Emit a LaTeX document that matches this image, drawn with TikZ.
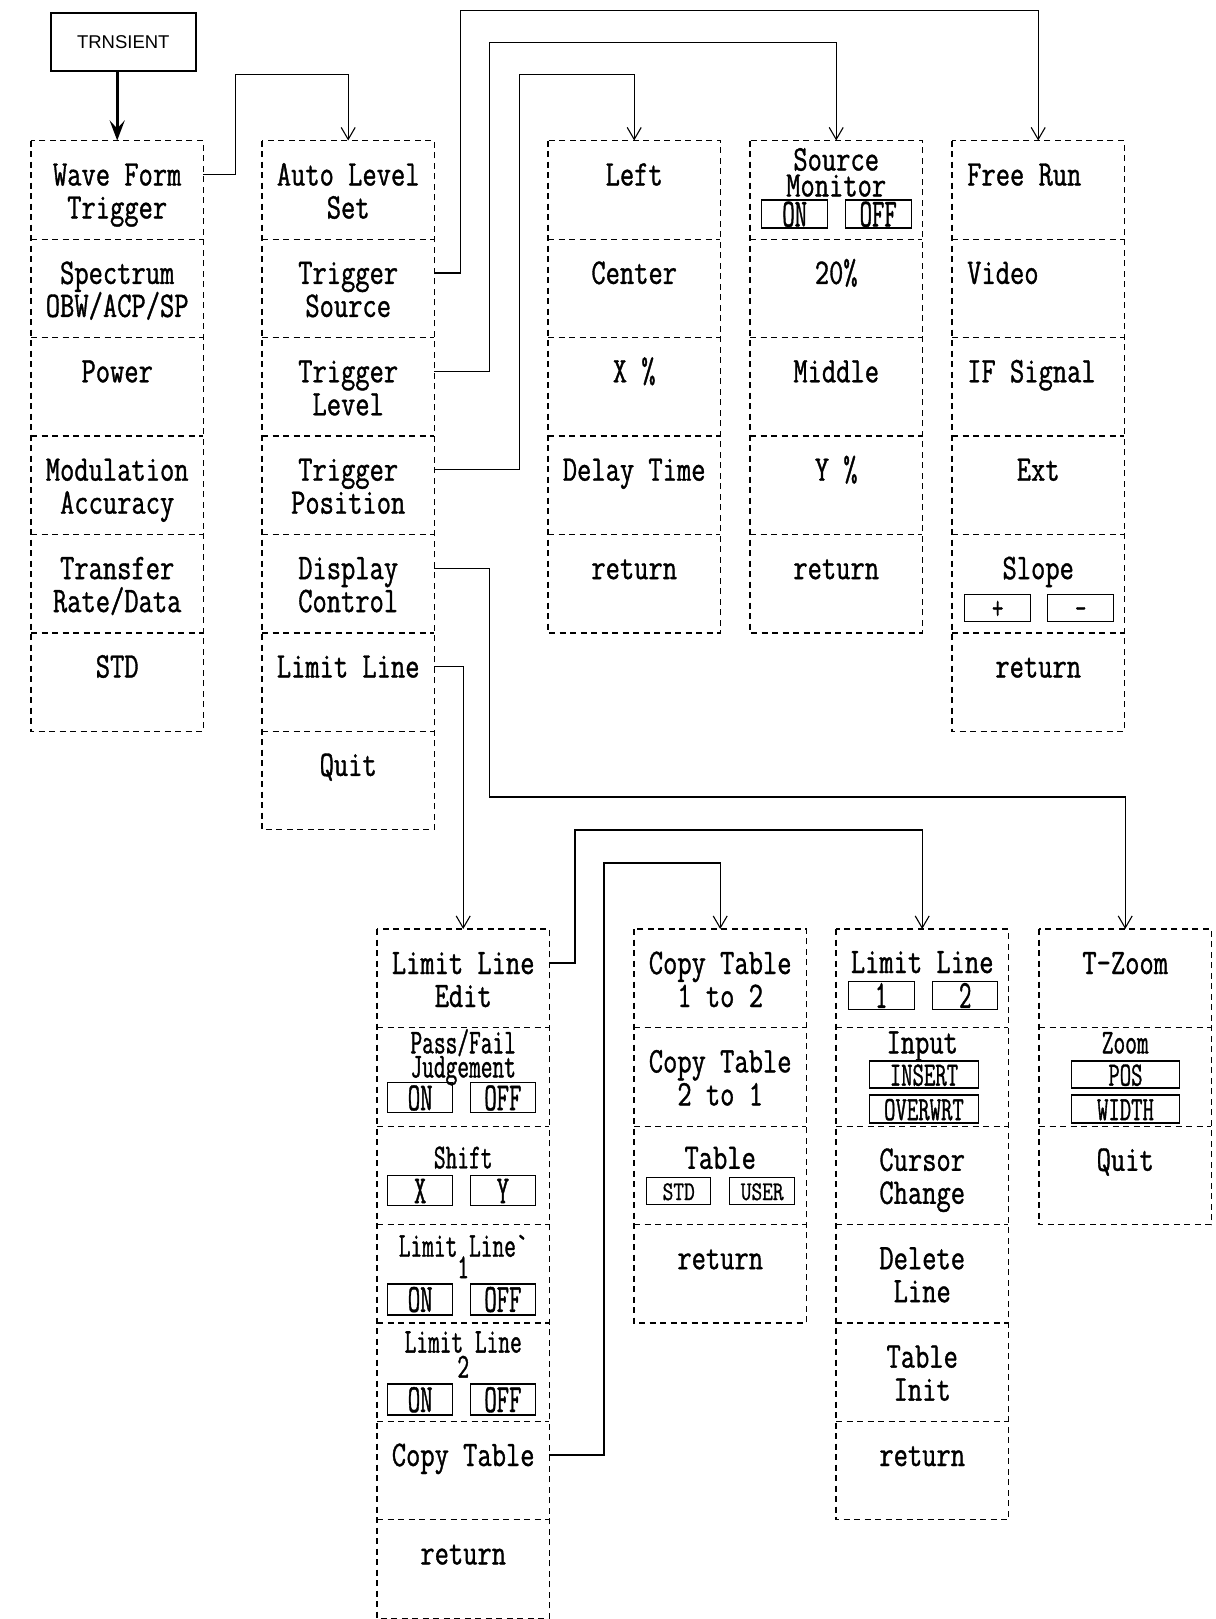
\documentclass[tikz,border=0pt]{standalone}
\usepackage{fontspec}
\newfontfamily\mfa[FakeStretch=0.77,FakeBold=1]{Latin Modern Mono}
\newfontfamily\mfb[FakeStretch=0.65,FakeBold=1]{Latin Modern Mono}
\newfontfamily\mfc[FakeStretch=0.6,FakeBold=1]{Latin Modern Mono}
\newfontfamily\arialf{Liberation Sans}
\usetikzlibrary{arrows.meta}
\tikzset{
  cell/.style={anchor=north west, minimum width=172pt, minimum height=98.4pt, inner sep=0pt, draw=none},
  dl/.style={line width=1.3pt, dash pattern=on 6pt off 4.5pt},
  lbl/.style={anchor=base, inner sep=0pt, font=\mfa\fontsize{36pt}{33pt}\selectfont},
  lbll/.style={anchor=base west, inner sep=0pt, font=\mfa\fontsize{36pt}{33pt}\selectfont},
  clbl/.style={anchor=base, inner sep=0pt, font=\mfb\fontsize{35pt}{30pt}\selectfont},
  sbox/.style={draw, line width=1.4pt, inner sep=0pt, text height=26pt, text depth=1pt, anchor=north west, font=\mfc\fontsize{40pt}{30pt}\selectfont},
  sboxm/.style={sbox, text height=23pt, text depth=1pt, font=\mfb\fontsize{34pt}{30pt}\selectfont},
  sboxs/.style={sbox, text height=19pt, text depth=1pt, font=\mfa\fontsize{27pt}{30pt}\selectfont},
  conn/.style={line width=1.2pt, -{Straight Barb[length=12pt,width=14pt,line width=1.1pt]}},
  trnbox/.style={draw, line width=2.2pt, minimum width=145pt, minimum height=58pt, inner sep=0pt, font=\arialf\fontsize{18.5pt}{20pt}\selectfont},
  trnarrow/.style={line width=3pt, -{Stealth[length=20pt,width=15pt,inset=8pt]}},
}
\newcommand\tline[5]{\node[#1] (#2) at ([yshift=-#4pt]#3.north) {#5};}
\newcommand\onel[2]{\node[lbl] (#1-a) at ([yshift=-45pt]#1.north) {#2};}
\newcommand\twol[3]{\node[lbl] (#1-a) at ([yshift=-45pt]#1.north) {#2};\node[lbl] (#1-b) at ([yshift=-78pt]#1.north) {#3};}
\newcommand\sbx[8][sbox]{\node[#1, minimum width=#5pt, minimum height=#6pt] (#2) at ([xshift=#4pt,yshift=-#7pt]#3.north west) {#8};}
\begin{document}
\begin{tikzpicture}[x=1pt,y=-1pt]
\useasboundingbox (0,0) rectangle (1215,1619);

% ---- cells
\foreach \i in {1,...,6} \node[cell] (t1r\i) at (31,{140.5+(\i-1)*98.4}) {};
\foreach \i in {1,...,7} \node[cell] (t2r\i) at (262,{140.5+(\i-1)*98.4}) {};
\foreach \i in {1,...,5} \node[cell] (t3r\i) at (548,{140.5+(\i-1)*98.4}) {};
\foreach \i in {1,...,5} \node[cell] (t4r\i) at (750,{140.5+(\i-1)*98.4}) {};
\foreach \i in {1,...,6} \node[cell] (t5r\i) at (952,{140.5+(\i-1)*98.4}) {};
\foreach \i in {1,...,7} \node[cell] (b1r\i) at (377,{929+(\i-1)*98.4}) {};
\foreach \i in {1,...,4} \node[cell] (b2r\i) at (634,{929+(\i-1)*98.4}) {};
\foreach \i in {1,...,6} \node[cell] (b3r\i) at (836,{929+(\i-1)*98.4}) {};
\foreach \i in {1,...,3} \node[cell] (b4r\i) at (1039,{929+(\i-1)*98.4}) {};

% ---- dashed outlines and separators
\draw[dl] (t1r1.north west) rectangle (t1r6.south east);
\foreach \i in {1,...,5} \draw[dl] (t1r\i.south west) -- (t1r\i.south east);
\draw[dl] (t2r1.north west) rectangle (t2r7.south east);
\foreach \i in {1,...,6} \draw[dl] (t2r\i.south west) -- (t2r\i.south east);
\draw[dl] (t3r1.north west) rectangle (t3r5.south east);
\foreach \i in {1,...,4} \draw[dl] (t3r\i.south west) -- (t3r\i.south east);
\draw[dl] (t4r1.north west) rectangle (t4r5.south east);
\foreach \i in {1,...,4} \draw[dl] (t4r\i.south west) -- (t4r\i.south east);
\draw[dl] (t5r1.north west) rectangle (t5r6.south east);
\foreach \i in {1,...,5} \draw[dl] (t5r\i.south west) -- (t5r\i.south east);
\draw[dl] (b1r1.north west) rectangle (b1r7.south east);
\foreach \i in {1,...,6} \draw[dl] (b1r\i.south west) -- (b1r\i.south east);
\draw[dl] (b2r1.north west) rectangle (b2r4.south east);
\foreach \i in {1,...,3} \draw[dl] (b2r\i.south west) -- (b2r\i.south east);
\draw[dl] (b3r1.north west) rectangle (b3r6.south east);
\foreach \i in {1,...,5} \draw[dl] (b3r\i.south west) -- (b3r\i.south east);
\draw[dl] (b4r1.north west) rectangle (b4r3.south east);
\foreach \i in {1,...,2} \draw[dl] (b4r\i.south west) -- (b4r\i.south east);

% ---- TRNSIENT
\node[trnbox] (trn) at (123.3,41.7) {TRNSIENT};
\draw[trnarrow] (trn.south -| t1r1.north) -- (t1r1.north);

% ---- column 1
\twol{t1r1}{Wave Form}{Trigger}
\twol{t1r2}{Spectrum}{OBW/ACP/SP}
\onel{t1r3}{Power}
\twol{t1r4}{Modulation}{Accuracy}
\twol{t1r5}{Transfer}{Rate/Data}
\onel{t1r6}{STD}

% ---- column 2
\twol{t2r1}{Auto Level}{Set}
\twol{t2r2}{Trigger}{Source}
\twol{t2r3}{Trigger}{Level}
\twol{t2r4}{Trigger}{Position}
\twol{t2r5}{Display}{Control}
\onel{t2r6}{Limit Line}
\onel{t2r7}{Quit}

% ---- column 3
\onel{t3r1}{Left}
\onel{t3r2}{Center}
\onel{t3r3}{X \%}
\onel{t3r4}{Delay Time}
\onel{t3r5}{return}

% ---- column 4
\tline{lbl}{t4r1-a}{t4r1}{30}{Source}
\tline{lbl}{t4r1-b}{t4r1}{56}{Monitor}
\sbx{t4r1-on}{t4r1}{11}{66}{28}{58.8}{ON}
\sbx{t4r1-off}{t4r1}{94.5}{66}{28}{58.8}{OFF}
\onel{t4r2}{20\%}
\onel{t4r3}{Middle}
\onel{t4r4}{Y \%}
\onel{t4r5}{return}

% ---- column 5
\node[lbll] (t5r1-a) at ([xshift=15pt,yshift=-45pt]t5r1.north west) {Free Run};
\node[lbll] (t5r2-a) at ([xshift=15pt,yshift=-45pt]t5r2.north west) {Video};
\node[lbll] (t5r3-a) at ([xshift=15pt,yshift=-45pt]t5r3.north west) {IF Signal};
\onel{t5r4}{Ext}
\onel{t5r5}{Slope}
\sbx[sboxm]{t5r5-p}{t5r5}{12}{66}{27}{59.5}{+}
\sbx[sboxm]{t5r5-m}{t5r5}{95}{66}{27}{59.5}{–}
\onel{t5r6}{return}

% ---- bottom column 1
\twol{b1r1}{Limit Line}{Edit}
\tline{clbl}{b1r2-a}{b1r2}{26}{Pass/Fail}
\tline{clbl}{b1r2-b}{b1r2}{50}{Judgement}
\sbx{b1r2-on}{b1r2}{10}{65}{30}{54.6}{ON}
\sbx{b1r2-off}{b1r2}{92.7}{65}{30}{54.6}{OFF}
\tline{clbl}{b1r3-a}{b1r3}{42.5}{Shift}
\sbx{b1r3-x}{b1r3}{10}{65}{30}{49.2}{X}
\sbx{b1r3-y}{b1r3}{92.7}{65}{30}{49.2}{Y}
\tline{clbl}{b1r4-a}{b1r4}{32.5}{Limit Line`}
\tline{clbl}{b1r4-b}{b1r4}{54}{1}
\sbx{b1r4-on}{b1r4}{10}{65}{31}{58.9}{ON}
\sbx{b1r4-off}{b1r4}{92.7}{65}{31}{58.9}{OFF}
\tline{clbl}{b1r5-a}{b1r5}{30}{Limit Line}
\tline{clbl}{b1r5-b}{b1r5}{55}{2}
\sbx{b1r5-on}{b1r5}{10}{65}{31}{60.7}{ON}
\sbx{b1r5-off}{b1r5}{92.7}{65}{31}{60.7}{OFF}
\onel{b1r6}{Copy Table}
\onel{b1r7}{return}

% ---- bottom column 2
\twol{b2r1}{Copy Table}{1 to 2}
\twol{b2r2}{Copy Table}{2 to 1}
\tline{lbl}{b2r3-a}{b2r3}{43}{Table}
\sbx[sboxs]{b2r3-std}{b2r3}{12}{64}{27}{51}{STD}
\sbx[sboxs]{b2r3-user}{b2r3}{95}{65}{27}{51}{USER}
\onel{b2r4}{return}

% ---- bottom column 3
\tline{lbl}{b3r1-a}{b3r1}{44}{Limit Line}
\sbx{b3r1-1}{b3r1}{11.5}{66}{28}{51.7}{1}
\sbx{b3r1-2}{b3r1}{96}{65}{28}{51.7}{2}
\tline{lbl}{b3r2-a}{b3r2}{26}{Input}
\sbx[sboxm]{b3r2-ins}{b3r2}{33}{108.5}{27}{33}{INSERT}
\sbx[sboxm]{b3r2-ovr}{b3r2}{33}{108.5}{28}{67}{OVERWRT}
\twol{b3r3}{Cursor}{Change}
\twol{b3r4}{Delete}{Line}
\twol{b3r5}{Table}{Init}
\onel{b3r6}{return}

% ---- bottom column 4
\onel{b4r1}{T-Zoom}
\tline{clbl}{b4r2-a}{b4r2}{26}{Zoom}
\sbx[sboxm]{b4r2-pos}{b4r2}{31.5}{108.5}{27}{33}{POS}
\sbx[sboxm]{b4r2-wid}{b4r2}{31.5}{108.5}{28}{67}{WIDTH}
\onel{b4r3}{Quit}

% ---- connectors
\coordinate (lane1) at (235.4,74.3);
\coordinate (lane2) at (460.4,10.3);
\coordinate (lane3) at (489.3,42.3);
\coordinate (lane4) at (519.2,74.3);
\coordinate (lane5) at (489.3,797);
\coordinate (lane7) at (575,830);
\coordinate (lane8) at (603.9,863);
\draw[conn] ([yshift=-34pt]t1r1.north east) -| (lane1) -| (t2r1.north);
\draw[conn] ([yshift=-34pt]t2r2.north east) -| (lane2) -| (t5r1.north);
\draw[conn] ([yshift=-34pt]t2r3.north east) -| (lane3) -| (t4r1.north);
\draw[conn] ([yshift=-34pt]t2r4.north east) -| (lane4) -| (t3r1.north);
\draw[conn] ([yshift=-34pt]t2r5.north east) -| (lane5) -| (b4r1.north);
\draw[conn] ([yshift=-34pt]t2r6.north east) -| (b1r1.north);
\draw[conn] ([yshift=-34pt]b1r1.north east) -| (lane7) -| (b3r1.north);
\draw[conn] ([yshift=-34pt]b1r6.north east) -| (lane8) -| (b2r1.north);
\end{tikzpicture}
\end{document}
